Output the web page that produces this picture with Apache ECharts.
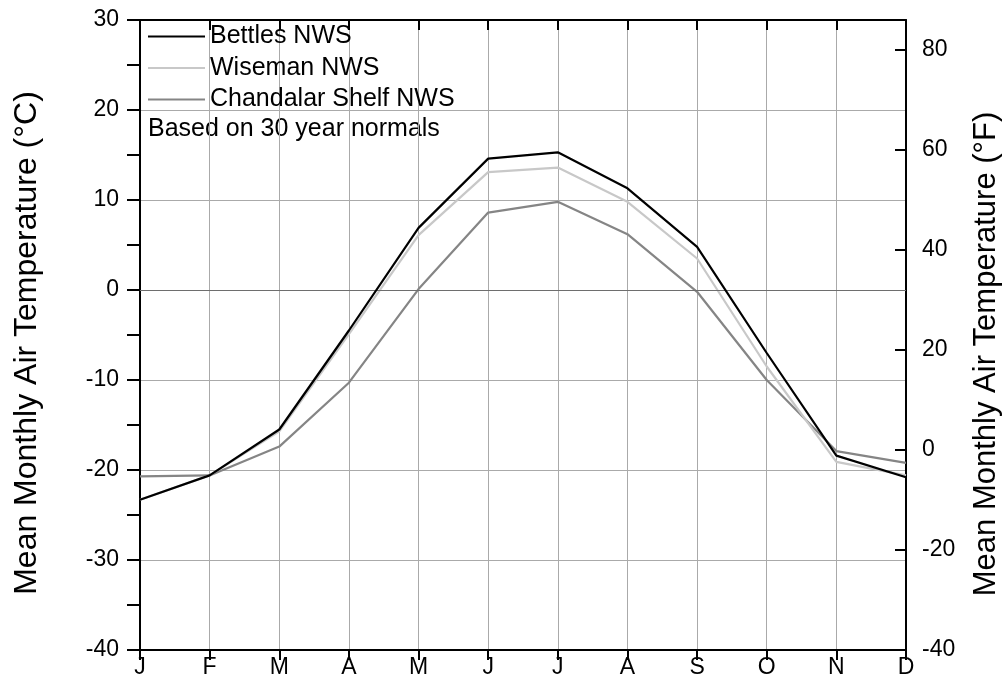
<!DOCTYPE html>
<html>
<head>
<meta charset="utf-8">
<script src="https://cdn.jsdelivr.net/npm/echarts@6/dist/echarts.min.js"></script>
<style>
html,body{margin:0;padding:0;background:#fff;}
#chart{width:1005px;height:696px;}
</style>
</head>
<body>
<div id="chart"></div>
<script>
const months = ['J','F','M','A','M','J','J','A','S','O','N','D'];
const bettles = [-23.3, -20.6, -15.5, -4.5, 6.9, 14.6, 15.3, 11.3, 4.8, -7.0, -18.4, -20.8];
const wiseman = [-23.3, -20.6, -15.7, -4.9, 6.1, 13.1, 13.6, 9.8, 3.5, -8.5, -19.1, -20.6];
const chandalar = [-20.7, -20.6, -17.4, -10.3, 0.1, 8.6, 9.8, 6.2, -0.2, -10.0, -17.9, -19.2];
const seriesNames = ['Bettles NWS', 'Wiseman NWS', 'Chandalar Shelf NWS'];
const leftTitle = 'Mean Monthly Air Temperature (°C)';
const rightTitle = 'Mean Monthly Air Temperature (°F)';
const noteText = 'Based on 30 year normals';

const FONT = 'Liberation Sans, Arial, sans-serif';
const chart = echarts.init(document.getElementById('chart'));
const option = {
  backgroundColor: '#fff',
  animation: false,
  grid: { left: 140, right: 99, top: 20, bottom: 46, containLabel: false },
  legend: {
    data: seriesNames,
    orient: 'vertical',
    left: 148,
    top: 24,
    padding: 0,
    icon: 'rect',
    itemWidth: 57,
    itemHeight: 2,
    itemGap: 6.5,
    textStyle: { fontFamily: FONT, fontSize: 25, color: '#000', lineHeight: 24 }
  },
  xAxis: [
    {
      type: 'category', data: months, boundaryGap: false, position: 'bottom',
      axisLine: { show: true, onZero: false, lineStyle: { color: '#000', width: 2 } },
      axisTick: { show: true, inside: false, length: 10, alignWithLabel: true, lineStyle: { color: '#000', width: 2 } },
      axisLabel: { color: '#000', fontFamily: FONT, fontSize: 23, margin: 6 },
      splitLine: { show: true, lineStyle: { color: '#aaaaaa', width: 1 } }
    },
    {
      type: 'category', data: months, boundaryGap: false, position: 'top',
      axisLine: { show: true, onZero: false, lineStyle: { color: '#000', width: 2 } },
      axisTick: { show: true, inside: true, length: 10, lineStyle: { color: '#000', width: 2 } },
      axisLabel: { show: false },
      splitLine: { show: false }
    }
  ],
  yAxis: [
    {
      type: 'value', min: -40, max: 30, interval: 10, position: 'left',
      axisLine: { show: true, onZero: false, lineStyle: { color: '#000', width: 2 } },
      axisTick: { show: true, inside: false, length: 13, lineStyle: { color: '#000', width: 2 } },
      minorTick: { show: true, splitNumber: 2, length: 13, lineStyle: { color: '#000', width: 2 } },
      axisLabel: { color: '#000', fontFamily: FONT, fontSize: 23, margin: 21 },
      splitLine: { show: true, lineStyle: { color: '#aaaaaa', width: 1 } }
    },
    {
      type: 'value', min: -40, max: 86, interval: 20, position: 'right',
      axisLine: { show: true, onZero: false, lineStyle: { color: '#000', width: 2 } },
      axisTick: { show: true, inside: true, length: 11, lineStyle: { color: '#000', width: 2 } },
      axisLabel: { color: '#000', fontFamily: FONT, fontSize: 23, margin: 16,
        formatter: v => (v % 20 === 0 ? String(v) : '') },
      splitLine: { show: false }
    }
  ],
  series: [
    { name: seriesNames[0], type: 'line', data: bettles, symbol: 'none', z: 5,
      lineStyle: { color: '#000', width: 2.2 }, itemStyle: { color: '#000' } },
    { name: seriesNames[1], type: 'line', data: wiseman, symbol: 'none', z: 4,
      lineStyle: { color: '#c8c8c8', width: 2.2 }, itemStyle: { color: '#c8c8c8' } },
    { name: seriesNames[2], type: 'line', data: chandalar, symbol: 'none', z: 3,
      lineStyle: { color: '#858585', width: 2.2 }, itemStyle: { color: '#858585' },
      markLine: { silent: true, symbol: 'none', label: { show: false },
        lineStyle: { color: '#6e6e6e', width: 1.2, type: 'solid' },
        data: [{ yAxis: 0 }] } }
  ],
  graphic: [
    { type: 'text', left: 148, top: 117, style: { text: noteText, font: '25px ' + FONT, fill: '#000' } },
    { type: 'text', x: 27, y: 343, rotation: Math.PI / 2,
      style: { text: leftTitle, font: '32px ' + FONT, fill: '#000', align: 'center', verticalAlign: 'middle' } },
    { type: 'text', x: 986, y: 354, rotation: Math.PI / 2,
      style: { text: rightTitle, font: '31px ' + FONT, fill: '#000', align: 'center', verticalAlign: 'middle' } }
  ]
};
chart.setOption(option);
</script>
</body>
</html>
